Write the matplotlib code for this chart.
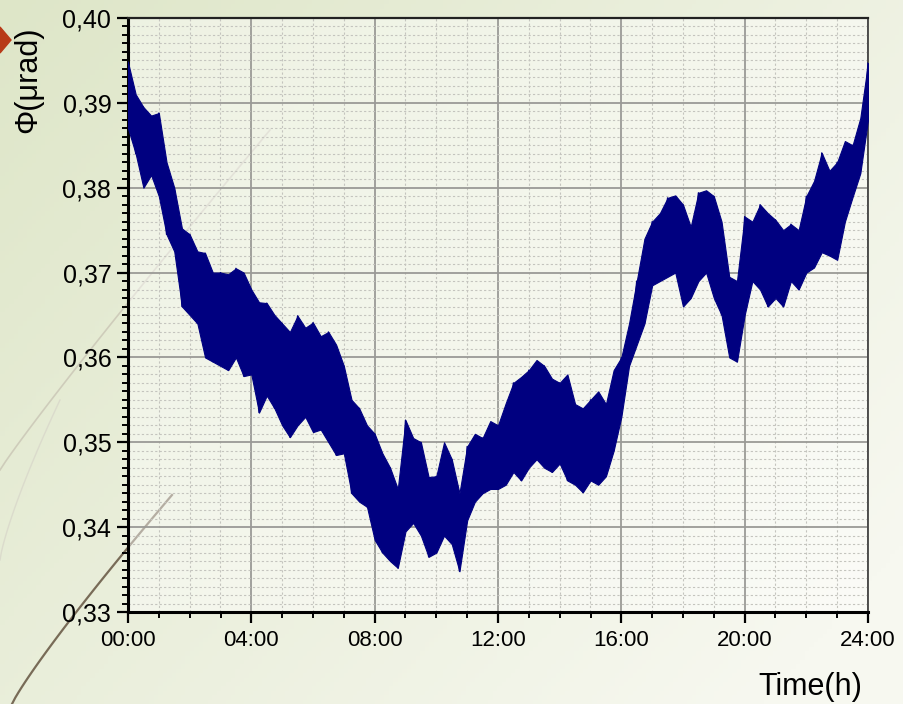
import numpy as np
import matplotlib
matplotlib.use("Agg")
import matplotlib.pyplot as plt
from matplotlib.ticker import MultipleLocator, FixedLocator

plt.rcParams['font.family'] = ['Liberation Sans', 'DejaVu Sans']

# ---- data: upper / lower extremes of the noisy trace ----
hours = [i * 0.25 for i in range(97)]
upper = [0.3948, 0.3910, 0.3895, 0.3885, 0.3888, 0.3830, 0.3800, 0.3752, 0.3745, 0.3725,
         0.3723, 0.3700, 0.3700, 0.3698, 0.3705, 0.3700, 0.3680, 0.3665, 0.3664, 0.3650,
         0.3640, 0.3630, 0.3649, 0.3635, 0.3641, 0.3625, 0.3630, 0.3615, 0.3590, 0.3550,
         0.3540, 0.3520, 0.3510, 0.3487, 0.3470, 0.3445, 0.3526, 0.3505, 0.3500, 0.3459,
         0.3460, 0.3500, 0.3480, 0.3440, 0.3495, 0.3510, 0.3505, 0.3525, 0.3520, 0.3546,
         0.3570, 0.3577, 0.3585, 0.3597, 0.3590, 0.3575, 0.3570, 0.3580, 0.3545, 0.3540,
         0.3550, 0.3560, 0.3545, 0.3585, 0.3600, 0.3640, 0.3690, 0.3740, 0.3760, 0.3770,
         0.3788, 0.3791, 0.3780, 0.3754, 0.3794, 0.3797, 0.3790, 0.3760, 0.3695, 0.3690,
         0.3766, 0.3760, 0.3780, 0.3770, 0.3762, 0.3750, 0.3757, 0.3750, 0.3790, 0.3808,
         0.3841, 0.3820, 0.3830, 0.3855, 0.3850, 0.3882, 0.3947]
lower = [0.3870, 0.3840, 0.3800, 0.3815, 0.3790, 0.3745, 0.3725, 0.3660, 0.3650, 0.3640,
         0.3600, 0.3595, 0.3590, 0.3585, 0.3600, 0.3578, 0.3580, 0.3535, 0.3555, 0.3540,
         0.3520, 0.3506, 0.3520, 0.3530, 0.3512, 0.3515, 0.3500, 0.3485, 0.3487, 0.3440,
         0.3430, 0.3424, 0.3385, 0.3370, 0.3360, 0.3352, 0.3395, 0.3405, 0.3390, 0.3365,
         0.3370, 0.3390, 0.3380, 0.3348, 0.3408, 0.3430, 0.3440, 0.3445, 0.3445, 0.3450,
         0.3465, 0.3455, 0.3470, 0.3480, 0.3470, 0.3465, 0.3475, 0.3455, 0.3450, 0.3441,
         0.3455, 0.3450, 0.3460, 0.3490, 0.3530, 0.3590, 0.3615, 0.3640, 0.3685, 0.3690,
         0.3695, 0.3700, 0.3660, 0.3670, 0.3690, 0.3700, 0.3670, 0.3650, 0.3600, 0.3595,
         0.3650, 0.3690, 0.3680, 0.3660, 0.3670, 0.3660, 0.3690, 0.3680, 0.3700, 0.3706,
         0.3724, 0.3720, 0.3715, 0.3760, 0.3789, 0.3817, 0.3880]
x_ticks = [0, 4, 8, 12, 16, 20, 24]
x_ticklabels = ["00:00", "04:00", "08:00", "12:00", "16:00", "20:00", "24:00"]
y_ticks = [0.33, 0.34, 0.35, 0.36, 0.37, 0.38, 0.39, 0.40]
y_ticklabels = ["0,33", "0,34", "0,35", "0,36", "0,37", "0,38", "0,39", "0,40"]

W, H = 904, 704
fig = plt.figure(figsize=(W / 100, H / 100), dpi=100)

# ---- slide-like background ----
bg = fig.add_axes([0, 0, 1, 1], zorder=-10)
gx = np.linspace(0, 1, 200)
gy = np.linspace(0, 1, 160)
GX, GY = np.meshgrid(gx, gy)
w = np.clip(0.65 * GX + 0.45 * GY, 0, 1)
c0 = np.array([222, 230, 200]) / 255.0
c1 = np.array([247, 248, 240]) / 255.0
img = c0[None, None, :] * (1 - w[..., None]) + c1[None, None, :] * w[..., None]
bg.imshow(img, extent=[0, 1, 0, 1], aspect='auto', origin='upper')
bg.set_xlim(0, 1); bg.set_ylim(0, 1); bg.axis('off')

def px(x, y):
    return x / W, 1 - y / H

lx = np.linspace(0, 270, 50)
ly = 470 - (470 - 130) * (lx / 270) ** 0.95
bg.plot(*px(lx, ly), color=(0.80, 0.79, 0.72), lw=1.2, alpha=0.9)
bx = np.linspace(12, 172, 50)
by = 704 - (704 - 495) * ((bx - 12) / 160) ** 0.9
bg.plot(*px(bx, by), color=(0.47, 0.42, 0.34), lw=1.6)
ax_ = np.linspace(0, 60, 40)
ay_ = 560 - 160 * (ax_ / 60) ** 0.8
bg.plot(*px(ax_, ay_), color=(0.86, 0.86, 0.80), lw=1.0)
dia = np.array([[0, 27], [11, 40], [0, 53]])
bg.fill(dia[:, 0] / W, 1 - dia[:, 1] / H, color='#b83a18')

# ---- main axes ----
ax = fig.add_axes([128 / W, 1 - 612 / H, 740 / W, 594 / H])
ax.set_facecolor((1, 1, 1, 0.45))

t = np.array(hours)
hi = np.array(upper)
lo = np.array(lower)
ax.fill_between(t, lo, hi, color='#000080', lw=0.8, edgecolor='#000080', zorder=3)
zig = np.where(np.arange(len(t)) % 2 == 0, hi, lo)
ax.plot(t, zig, color='#000080', lw=1.0, zorder=3)

ax.set_xlim(0, 24)
ax.set_ylim(0.33, 0.40)
ax.xaxis.set_major_locator(FixedLocator(x_ticks))
ax.set_xticklabels(x_ticklabels)
ax.xaxis.set_minor_locator(MultipleLocator(1))
ax.yaxis.set_major_locator(FixedLocator(y_ticks))
ax.set_yticklabels(y_ticklabels)
ax.yaxis.set_minor_locator(MultipleLocator(0.001))

ax.grid(which='major', color='#9a9a96', lw=1.3, ls='-', zorder=1)
ax.grid(which='minor', color='#c4c4be', lw=0.8, ls=(0, (2, 2)), zorder=1)
ax.set_axisbelow(True)

ax.tick_params(which='major', direction='out', length=8, width=1.6,
               pad=5, colors='black', top=False, right=False)
ax.tick_params(axis='x', which='major', labelsize=16)
ax.tick_params(axis='y', which='major', labelsize=18, pad=4)
ax.tick_params(which='minor', direction='out', length=4.5, width=1.4,
               top=False, right=False)

ax.spines['left'].set_linewidth(2.2)
ax.spines['bottom'].set_linewidth(2.2)
ax.spines['top'].set_linewidth(1.6)
ax.spines['right'].set_linewidth(1.3)
ax.spines['top'].set_color('#222222')
ax.spines['right'].set_color('#444444')

ax.set_xlabel('Time(h)', fontsize=22, ha='right', va='center')
ax.xaxis.set_label_coords((862 - 128) / 740, -(687 - 612) / 594)
ax.set_ylabel('Φ(μrad)', fontsize=22, va='center', ha='center')
ax.yaxis.set_label_coords((28 - 128) / 740, 1 - (80 - 18) / 594)

fig.savefig('out.png', dpi=100)
